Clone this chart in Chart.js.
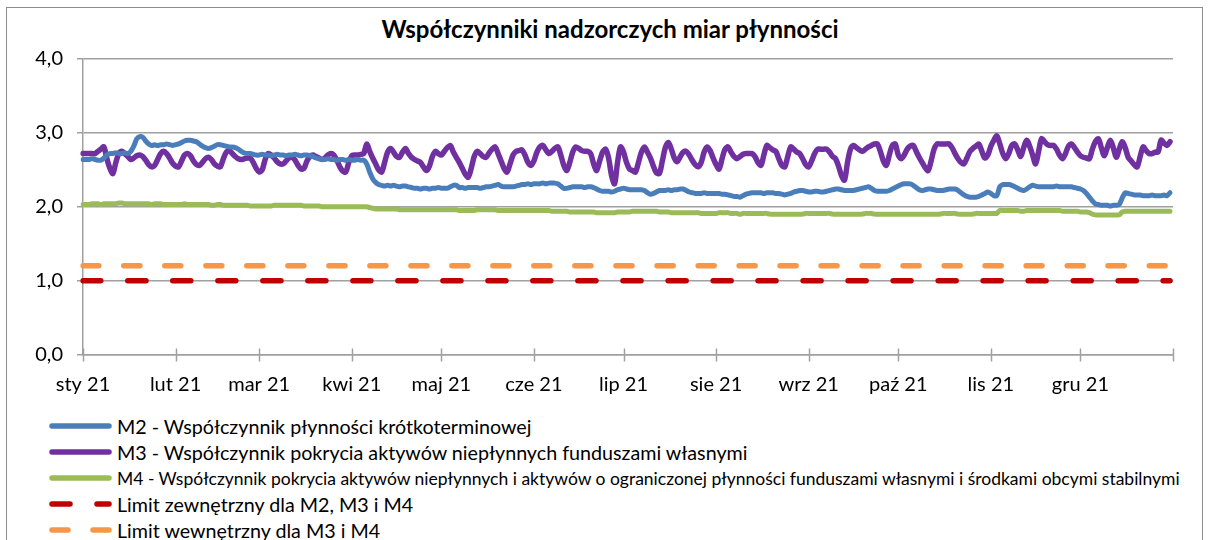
<!DOCTYPE html>
<html lang="pl">
<head>
<meta charset="utf-8">
<title>Współczynniki nadzorczych miar płynności</title>
<script src="https://cdn.jsdelivr.net/npm/chart.js@4/dist/chart.umd.min.js"></script>
<style>
  body {
    margin: 0;
    width: 1210px;
    height: 540px;
    overflow: hidden;
    background: #fff;
    position: relative;
    font-family: Lato, "Open Sans", sans-serif;
  }
  #frame {
    position: absolute;
    left: 6px;
    top: 7px;
    width: 1195px;
    height: 600px;
    border: 1.5px solid #8c8c8c;
  }
  #title {
    position: absolute;
    left: 10px;
    width: 1200px;
    top: 15px;
    text-align: center;
    font-weight: bold;
    font-size: 24px;
    line-height: 28px;
    color: #000;
  }
  #chart {
    position: absolute;
    left: 0;
    top: 0;
  }
  #legend {
    position: absolute;
    left: 46px;
    top: 413px;
  }
  .row {
    height: 26px;
    display: flex;
    align-items: center;
    white-space: nowrap;
    color: #000;
  }
  .row svg {
    width: 70px;
    height: 12px;
    flex: none;
  }
</style>
</head>
<body>
<div id="frame"></div>
<div id="title">Współczynniki nadzorczych miar płynności</div>
<canvas id="chart" width="1210" height="400"></canvas>
<div id="legend"></div>

<script>
const monthLabels = [
    "sty 21", "lut 21", "mar 21", "kwi 21", "maj 21", "cze 21",
    "lip 21", "sie 21", "wrz 21", "paź 21", "lis 21", "gru 21"
];

const seriesNames = [
    "M2 - Współczynnik płynności krótkoterminowej",
    "M3 - Współczynnik pokrycia aktywów niepłynnych funduszami własnymi",
    "M4 - Współczynnik pokrycia aktywów niepłynnych i aktywów o ograniczonej płynności funduszami własnymi i środkami obcymi stabilnymi",
    "Limit zewnętrzny dla M2, M3 i M4",
    "Limit wewnętrzny dla M3 i M4"
];

// daily values, 1 Jan 2021 - 31 Dec 2021
const m2 = [
    2.64, 2.64, 2.64, 2.65, 2.64, 2.63, 2.63, 2.66, 2.70, 2.72,
    2.72, 2.73, 2.72, 2.72, 2.73, 2.72, 2.75, 2.82, 2.92, 2.95,
    2.94, 2.89, 2.85, 2.83, 2.84, 2.83, 2.84, 2.84, 2.85, 2.84,
    2.83, 2.84, 2.85, 2.87, 2.89, 2.90, 2.90, 2.89, 2.88, 2.85,
    2.82, 2.80, 2.79, 2.80, 2.82, 2.84, 2.84, 2.83, 2.82, 2.81,
    2.81, 2.80, 2.78, 2.75, 2.73, 2.72, 2.72, 2.71, 2.70, 2.70,
    2.71, 2.70, 2.70, 2.69, 2.70, 2.71, 2.70, 2.70, 2.69, 2.70,
    2.70, 2.71, 2.70, 2.69, 2.70, 2.70, 2.69, 2.68, 2.66, 2.65,
    2.64, 2.64, 2.65, 2.64, 2.64, 2.63, 2.64, 2.64, 2.63, 2.64,
    2.63, 2.63, 2.64, 2.63, 2.63, 2.58, 2.47, 2.38, 2.33, 2.30,
    2.29, 2.28, 2.29, 2.28, 2.29, 2.28, 2.27, 2.28, 2.28, 2.27,
    2.26, 2.25, 2.25, 2.24, 2.25, 2.25, 2.24, 2.25, 2.25, 2.26,
    2.25, 2.25, 2.25, 2.27, 2.29, 2.29, 2.26, 2.26, 2.25, 2.26,
    2.26, 2.26, 2.26, 2.25, 2.26, 2.27, 2.27, 2.28, 2.29, 2.30,
    2.28, 2.27, 2.27, 2.27, 2.27, 2.28, 2.29, 2.30, 2.30, 2.31,
    2.30, 2.31, 2.31, 2.31, 2.32, 2.31, 2.32, 2.32, 2.32, 2.31,
    2.28, 2.25, 2.25, 2.26, 2.27, 2.27, 2.27, 2.27, 2.26, 2.27,
    2.27, 2.26, 2.24, 2.22, 2.21, 2.21, 2.21, 2.20, 2.21, 2.23,
    2.24, 2.25, 2.24, 2.23, 2.23, 2.23, 2.23, 2.23, 2.22, 2.19,
    2.17, 2.18, 2.20, 2.22, 2.22, 2.22, 2.23, 2.22, 2.23, 2.23,
    2.24, 2.24, 2.22, 2.20, 2.19, 2.18, 2.18, 2.18, 2.19, 2.18,
    2.18, 2.18, 2.18, 2.18, 2.17, 2.17, 2.16, 2.15, 2.14, 2.14,
    2.13, 2.15, 2.17, 2.18, 2.19, 2.19, 2.19, 2.19, 2.18, 2.19,
    2.19, 2.19, 2.18, 2.18, 2.17, 2.16, 2.17, 2.18, 2.20, 2.21,
    2.22, 2.22, 2.21, 2.20, 2.20, 2.21, 2.21, 2.20, 2.20, 2.21,
    2.22, 2.23, 2.24, 2.24, 2.23, 2.22, 2.22, 2.22, 2.22, 2.23,
    2.24, 2.25, 2.26, 2.27, 2.25, 2.22, 2.21, 2.21, 2.21, 2.21,
    2.22, 2.24, 2.26, 2.28, 2.30, 2.31, 2.31, 2.31, 2.29, 2.26,
    2.23, 2.22, 2.23, 2.24, 2.24, 2.23, 2.22, 2.22, 2.22, 2.23,
    2.24, 2.24, 2.24, 2.22, 2.19, 2.16, 2.14, 2.13, 2.13, 2.13,
    2.14, 2.16, 2.18, 2.20, 2.18, 2.15, 2.15, 2.27, 2.30, 2.30,
    2.30, 2.29, 2.27, 2.25, 2.23, 2.22, 2.24, 2.27, 2.29, 2.28,
    2.27, 2.27, 2.27, 2.27, 2.27, 2.27, 2.28, 2.27, 2.27, 2.27,
    2.27, 2.27, 2.26, 2.25, 2.24, 2.22, 2.18, 2.13, 2.08, 2.04,
    2.03, 2.02, 2.02, 2.02, 2.01, 2.02, 2.02, 2.03, 2.12, 2.19,
    2.18, 2.17, 2.16, 2.16, 2.16, 2.15, 2.15, 2.15, 2.16, 2.15,
    2.15, 2.15, 2.16, 2.15, 2.19
];

const m3 = [
    2.72, 2.72, 2.72, 2.72, 2.72, 2.75, 2.78, 2.81, 2.65, 2.52,
    2.45, 2.60, 2.72, 2.75, 2.72, 2.68, 2.64, 2.66, 2.69, 2.70,
    2.68, 2.63, 2.57, 2.54, 2.56, 2.64, 2.72, 2.75, 2.72, 2.66,
    2.59, 2.55, 2.54, 2.62, 2.70, 2.72, 2.69, 2.62, 2.57, 2.56,
    2.60, 2.65, 2.67, 2.64, 2.58, 2.55, 2.54, 2.65, 2.74, 2.76,
    2.72, 2.68, 2.65, 2.64, 2.65, 2.66, 2.66, 2.60, 2.52, 2.47,
    2.50, 2.64, 2.72, 2.70, 2.66, 2.61, 2.58, 2.58, 2.62, 2.66,
    2.67, 2.63, 2.56, 2.51, 2.52, 2.62, 2.68, 2.70, 2.68, 2.66,
    2.64, 2.66, 2.70, 2.72, 2.70, 2.63, 2.54, 2.48, 2.47, 2.60,
    2.69, 2.70, 2.70, 2.71, 2.72, 2.85, 2.75, 2.66, 2.58, 2.50,
    2.47, 2.60, 2.74, 2.79, 2.74, 2.68, 2.67, 2.74, 2.79, 2.72,
    2.67, 2.64, 2.62, 2.60, 2.54, 2.49, 2.55, 2.68, 2.75, 2.72,
    2.70, 2.75, 2.80, 2.83, 2.74, 2.67, 2.60, 2.52, 2.44, 2.40,
    2.52, 2.68, 2.75, 2.72, 2.68, 2.67, 2.73, 2.78, 2.81, 2.72,
    2.62, 2.52, 2.47, 2.58, 2.70, 2.75, 2.76, 2.77, 2.70, 2.60,
    2.56, 2.62, 2.74, 2.81, 2.83, 2.77, 2.72, 2.75, 2.79, 2.81,
    2.70, 2.56, 2.49, 2.60, 2.74, 2.81, 2.79, 2.76, 2.75, 2.75,
    2.72, 2.58, 2.49, 2.62, 2.74, 2.78, 2.66, 2.42, 2.31, 2.60,
    2.81, 2.74, 2.60, 2.51, 2.49, 2.47, 2.60, 2.74, 2.81, 2.74,
    2.66, 2.55, 2.46, 2.45, 2.62, 2.80, 2.87, 2.78, 2.66, 2.61,
    2.68, 2.74, 2.75, 2.70, 2.63, 2.57, 2.54, 2.60, 2.74, 2.81,
    2.76, 2.66, 2.57, 2.51, 2.65, 2.78, 2.81, 2.74, 2.68, 2.65,
    2.68, 2.71, 2.72, 2.72, 2.72, 2.68, 2.60, 2.56, 2.70, 2.83,
    2.80, 2.77, 2.75, 2.65, 2.56, 2.54, 2.68, 2.81, 2.78, 2.74,
    2.72, 2.65, 2.57, 2.54, 2.62, 2.72, 2.78, 2.78, 2.78, 2.78,
    2.74, 2.68, 2.65, 2.55, 2.42, 2.36, 2.60, 2.78, 2.83, 2.80,
    2.77, 2.75, 2.78, 2.81, 2.83, 2.85, 2.85, 2.75, 2.62, 2.56,
    2.70, 2.83, 2.85, 2.70, 2.65, 2.70, 2.78, 2.82, 2.83, 2.75,
    2.67, 2.60, 2.53, 2.49, 2.62, 2.78, 2.85, 2.85, 2.85, 2.85,
    2.85, 2.80, 2.72, 2.65, 2.60, 2.58, 2.66, 2.75, 2.79, 2.82,
    2.85, 2.75, 2.66, 2.70, 2.82, 2.90, 2.96, 2.85, 2.72, 2.65,
    2.72, 2.83, 2.85, 2.77, 2.68, 2.80, 2.90, 2.82, 2.70, 2.58,
    2.75, 2.92, 2.88, 2.84, 2.83, 2.83, 2.78, 2.70, 2.65, 2.72,
    2.82, 2.85, 2.80, 2.74, 2.69, 2.67, 2.66, 2.65, 2.78, 2.88,
    2.92, 2.80, 2.69, 2.80, 2.90, 2.80, 2.67, 2.78, 2.88, 2.80,
    2.67, 2.62, 2.57, 2.54, 2.68, 2.81, 2.76, 2.72, 2.72, 2.74,
    2.74, 2.90, 2.86, 2.83, 2.88
];

const m4 = [
    2.03, 2.03, 2.03, 2.04, 2.04, 2.04, 2.03, 2.04, 2.04, 2.04,
    2.04, 2.04, 2.05, 2.05, 2.04, 2.04, 2.04, 2.04, 2.04, 2.04,
    2.04, 2.04, 2.04, 2.03, 2.04, 2.04, 2.04, 2.03, 2.03, 2.03,
    2.03, 2.03, 2.03, 2.03, 2.04, 2.03, 2.03, 2.03, 2.03, 2.03,
    2.03, 2.03, 2.03, 2.02, 2.02, 2.03, 2.03, 2.02, 2.02, 2.02,
    2.02, 2.02, 2.02, 2.02, 2.02, 2.02, 2.01, 2.01, 2.01, 2.01,
    2.01, 2.01, 2.01, 2.01, 2.02, 2.02, 2.02, 2.02, 2.02, 2.02,
    2.02, 2.02, 2.02, 2.02, 2.01, 2.01, 2.01, 2.01, 2.01, 2.01,
    2.00, 2.00, 2.00, 2.00, 2.00, 2.00, 2.00, 2.00, 2.00, 2.00,
    2.00, 2.00, 2.00, 2.00, 2.00, 2.00, 1.99, 1.98, 1.97, 1.97,
    1.97, 1.97, 1.97, 1.97, 1.97, 1.97, 1.96, 1.96, 1.96, 1.96,
    1.96, 1.96, 1.96, 1.96, 1.96, 1.96, 1.96, 1.96, 1.96, 1.96,
    1.96, 1.96, 1.96, 1.96, 1.96, 1.96, 1.95, 1.95, 1.95, 1.95,
    1.95, 1.95, 1.96, 1.96, 1.96, 1.96, 1.96, 1.96, 1.96, 1.95,
    1.95, 1.95, 1.95, 1.95, 1.95, 1.95, 1.95, 1.95, 1.95, 1.95,
    1.95, 1.95, 1.95, 1.95, 1.95, 1.95, 1.95, 1.94, 1.94, 1.94,
    1.94, 1.94, 1.94, 1.93, 1.93, 1.93, 1.93, 1.93, 1.93, 1.93,
    1.93, 1.93, 1.92, 1.92, 1.92, 1.92, 1.92, 1.92, 1.92, 1.93,
    1.93, 1.93, 1.93, 1.93, 1.94, 1.94, 1.94, 1.94, 1.94, 1.94,
    1.94, 1.94, 1.94, 1.93, 1.93, 1.93, 1.93, 1.92, 1.92, 1.92,
    1.92, 1.92, 1.92, 1.92, 1.92, 1.92, 1.92, 1.91, 1.91, 1.91,
    1.91, 1.91, 1.91, 1.92, 1.92, 1.92, 1.92, 1.91, 1.91, 1.91,
    1.90, 1.91, 1.91, 1.91, 1.91, 1.91, 1.91, 1.91, 1.91, 1.91,
    1.90, 1.90, 1.90, 1.90, 1.90, 1.90, 1.90, 1.90, 1.90, 1.90,
    1.90, 1.90, 1.91, 1.91, 1.91, 1.91, 1.91, 1.91, 1.91, 1.91,
    1.91, 1.90, 1.90, 1.90, 1.90, 1.90, 1.90, 1.90, 1.90, 1.90,
    1.90, 1.90, 1.91, 1.91, 1.91, 1.90, 1.90, 1.90, 1.90, 1.90,
    1.90, 1.90, 1.90, 1.90, 1.90, 1.90, 1.90, 1.90, 1.90, 1.90,
    1.90, 1.90, 1.90, 1.90, 1.90, 1.90, 1.90, 1.90, 1.91, 1.91,
    1.91, 1.91, 1.91, 1.90, 1.90, 1.90, 1.90, 1.90, 1.90, 1.91,
    1.91, 1.91, 1.91, 1.91, 1.91, 1.91, 1.91, 1.95, 1.95, 1.95,
    1.95, 1.95, 1.95, 1.95, 1.94, 1.94, 1.95, 1.95, 1.95, 1.95,
    1.95, 1.95, 1.95, 1.95, 1.95, 1.95, 1.95, 1.95, 1.94, 1.94,
    1.94, 1.94, 1.94, 1.94, 1.93, 1.93, 1.93, 1.92, 1.90, 1.89,
    1.89, 1.89, 1.89, 1.89, 1.89, 1.89, 1.89, 1.89, 1.93, 1.94,
    1.94, 1.94, 1.94, 1.94, 1.94, 1.94, 1.94, 1.94, 1.94, 1.94,
    1.94, 1.94, 1.94, 1.94, 1.94
];

const limitExternal = [1.0, 1.0];
const limitInternal = [1.2, 1.2];

const gridColor = "#a0a0a0";

// one label per day plus 1 Jan 2022 for the closing tick
const days = [];
const monthStart = {};
for (let i = 0; i <= 365; i++) {
    const d = new Date(Date.UTC(2021, 0, 1 + i));
    days.push(d.toISOString().slice(0, 10));
    if (d.getUTCDate() === 1) {
        monthStart[i] = d.getUTCFullYear() === 2021
            ? monthLabels[d.getUTCMonth()]
            : "";
    }
}

const lastDay = days[m2.length - 1];

const datasets = [
    {
        label: seriesNames[0],
        data: m2,
        borderColor: "#4a7ebb",
        borderWidth: 5
    },
    {
        label: seriesNames[1],
        data: m3,
        borderColor: "#7030a0",
        borderWidth: 5.5
    },
    {
        label: seriesNames[2],
        data: m4,
        borderColor: "#9bbb59",
        borderWidth: 5
    },
    {
        label: seriesNames[3],
        data: [
            { x: days[0], y: limitExternal[0] },
            { x: lastDay, y: limitExternal[1] }
        ],
        borderColor: "#c00000",
        borderWidth: 5.5,
        borderDash: [18, 27]
    },
    {
        label: seriesNames[4],
        data: [
            { x: days[0], y: limitInternal[0] },
            { x: lastDay, y: limitInternal[1] }
        ],
        borderColor: "#f79646",
        borderWidth: 5.5,
        borderDash: [16, 25]
    }
];

datasets.forEach(ds => {
    ds.pointRadius = 0;
    ds.pointHoverRadius = 0;
    ds.fill = false;
    ds.tension = 0.3;
    ds.borderCapStyle = "round";
    ds.borderJoinStyle = "round";
});

// month tick marks crossing the x axis
const monthTicks = {
    id: "monthTicks",
    afterDraw(chart) {
        const x = chart.scales.x;
        const ctx = chart.ctx;
        ctx.save();
        ctx.strokeStyle = gridColor;
        ctx.lineWidth = 1.5;
        Object.keys(monthStart).forEach(i => {
            const px = Math.round(x.getPixelForTick(Number(i))) + 0.5;
            ctx.beginPath();
            ctx.moveTo(px, x.top - 6);
            ctx.lineTo(px, x.top + 7);
            ctx.stroke();
        });
        ctx.restore();
    }
};

const chart = new Chart(
    document.getElementById("chart"),
    {
        type: "line",
        data: {
            labels: days,
            datasets: datasets
        },
        options: {
            responsive: false,
            animation: false,
            devicePixelRatio: 1,
            layout: {
                padding: { top: 59, right: 37, bottom: 0, left: 0 }
            },
            plugins: {
                legend: { display: false },
                title: { display: false },
                tooltip: { enabled: false }
            },
            scales: {
                x: {
                    type: "category",
                    offset: false,
                    grid: { display: false, drawTicks: true, tickLength: 6 },
                    border: { display: true, color: gridColor, width: 1.5 },
                    ticks: {
                        autoSkip: false,
                        maxRotation: 0,
                        minRotation: 0,
                        padding: 12,
                        color: "#000",
                        font: { family: "Lato", size: 20 },
                        callback: (value, index) =>
                            monthStart[index] !== undefined ? monthStart[index] : ""
                    },
                    afterFit: scale => { scale.height = 45.5; }
                },
                y: {
                    min: 0,
                    max: 4,
                    grid: {
                        color: gridColor,
                        lineWidth: 1.5,
                        drawTicks: true,
                        tickLength: 6
                    },
                    border: { display: true, color: gridColor, width: 1.5 },
                    ticks: {
                        stepSize: 1,
                        padding: 14,
                        color: "#000",
                        font: { family: "Lato", size: 20 },
                        callback: v => v.toFixed(1).replace(".", ",")
                    },
                    afterFit: scale => { scale.width = 83; }
                }
            }
        },
        plugins: [monthTicks]
    }
);

// legend, one entry per row
const legend = document.getElementById("legend");
chart.data.datasets.forEach((ds, i) => {
    const row = document.createElement("div");
    row.className = "row";
    const dash = ds.borderDash ? ds.borderDash.join(" ") : "none";
    row.innerHTML =
        `<svg viewBox="0 0 70 12">
            <line x1="6" y1="6" x2="63" y2="6"
                stroke="${ds.borderColor}" stroke-width="5.5"
                stroke-linecap="round" stroke-dasharray="${dash}"/>
        </svg>`;
    const text = document.createElement("span");
    text.textContent = ds.label;
    text.style.fontSize = i === 2 ? "17.5px" : "19.7px";
    text.style.marginLeft = "1px";
    row.appendChild(text);
    legend.appendChild(row);
});
</script>
</body>
</html>
